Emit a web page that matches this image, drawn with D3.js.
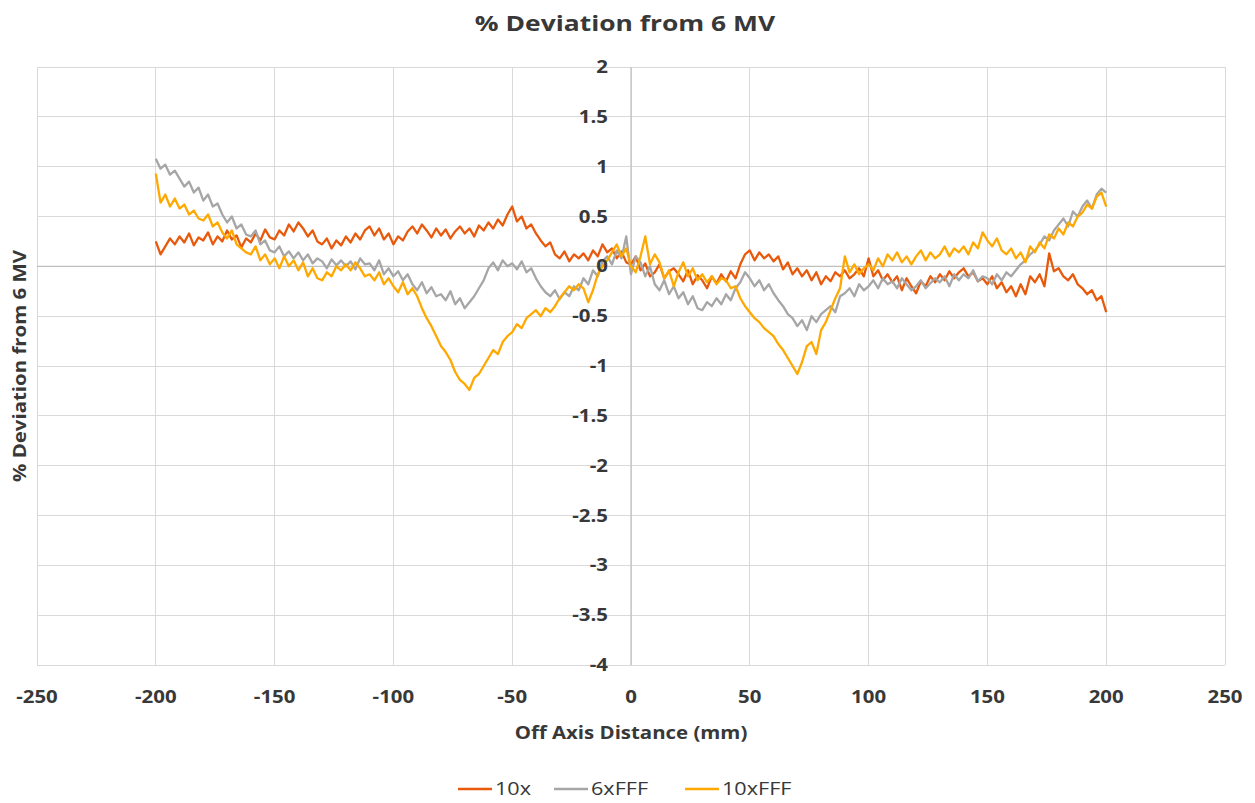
<!DOCTYPE html>
<html>
<head>
<meta charset="utf-8">
<script src="https://cdn.jsdelivr.net/npm/d3@7"></script>
<style>
  html, body { margin: 0; padding: 0; background: #fff; }
  svg { display: block; }
  text { font-family: "Open Sans", "DejaVu Sans", sans-serif; fill: #383838; }
</style>
</head>
<body>
<svg id="chart" width="1255" height="803"></svg>
<script>
// ---------------- data ----------------
const chartTitle = "% Deviation from 6 MV";
const xTitle = "Off Axis Distance (mm)";
const yTitle = "% Deviation from 6 MV";
const seriesNames = ["10x", "6xFFF", "10xFFF"];
const seriesColors = ["#E8590C", "#A6A6A6", "#FFA800"];
const xTicks = [-250, -200, -150, -100, -50, 0, 50, 100, 150, 200, 250];
const yTicks = [2, 1.5, 1, 0.5, 0, -0.5, -1, -1.5, -2, -2.5, -3, -3.5, -4];

const distance = [
-200,-198,-196,-194,-192,-190,-188,-186,-184,-182,-180,-178,-176,-174,-172,-170,-168,-166,-164,-162,
-160,-158,-156,-154,-152,-150,-148,-146,-144,-142,-140,-138,-136,-134,-132,-130,-128,-126,-124,-122,
-120,-118,-116,-114,-112,-110,-108,-106,-104,-102,-100,-98,-96,-94,-92,-90,-88,-86,-84,-82,
-80,-78,-76,-74,-72,-70,-68,-66,-64,-62,-60,-58,-56,-54,-52,-50,-48,-46,-44,-42,
-40,-38,-36,-34,-32,-30,-28,-26,-24,-22,-20,-18,-16,-14,-12,-10,-8,-6,-4,-2,
0,2,4,6,8,10,12,14,16,18,20,22,24,26,28,30,32,34,36,38,
40,42,44,46,48,50,52,54,56,58,60,62,64,66,68,70,72,74,76,78,
80,82,84,86,88,90,92,94,96,98,100,102,104,106,108,110,112,114,116,118,
120,122,124,126,128,130,132,134,136,138,140,142,144,146,148,150,152,154,156,158,
160,162,164,166,168,170,172,174,176,178,180,182,184,186,188,190,192,194,196,198,
200];

const dev10x = [
0.25,0.12,0.20,0.28,0.22, 0.30,0.24,0.33,0.21,0.29, 0.26,0.34,0.22,0.30,0.25, 0.36,0.27,0.31,0.19,0.28,
0.24,0.33,0.26,0.37,0.29, 0.27,0.36,0.31,0.42,0.35, 0.44,0.38,0.30,0.36,0.25, 0.22,0.28,0.18,0.26,0.21,
0.30,0.24,0.33,0.27,0.36, 0.40,0.31,0.38,0.27,0.33, 0.22,0.30,0.26,0.35,0.40, 0.33,0.42,0.36,0.29,0.38,
0.31,0.37,0.28,0.35,0.40, 0.33,0.38,0.30,0.41,0.36, 0.44,0.38,0.47,0.41,0.52, 0.60,0.45,0.50,0.38,0.42,
0.33,0.26,0.20,0.24,0.12, 0.08,0.15,0.05,0.12,0.08, 0.13,0.06,0.16,0.10,0.22, 0.14,0.18,0.08,0.15,0.04,
0.02,0.10,-0.04,0.03,-0.10, -0.06,0.02,-0.12,-0.05,-0.02, -0.08,-0.15,-0.04,-0.18,-0.09, -0.14,-0.22,-0.10,-0.17,-0.08,
-0.15,-0.05,-0.12,0.02,0.12, 0.16,0.06,0.14,0.08,0.12, 0.05,0.10,-0.03,0.04,-0.08, -0.02,-0.10,-0.04,-0.14,-0.06,
-0.18,-0.10,-0.15,-0.06,-0.10, -0.04,-0.12,-0.08,-0.02,-0.10, 0.08,-0.10,-0.04,-0.14,-0.08, -0.16,-0.10,-0.24,-0.12,-0.20,
-0.27,-0.15,-0.20,-0.10,-0.16, -0.08,-0.14,-0.05,-0.12,-0.06, -0.02,-0.10,-0.06,-0.15,-0.12, -0.18,-0.10,-0.22,-0.16,-0.26,
-0.20,-0.30,-0.18,-0.28,-0.10, -0.16,-0.08,-0.20,0.13,-0.05, -0.02,-0.10,-0.14,-0.08,-0.18, -0.22,-0.28,-0.24,-0.34,-0.30,
-0.46];

const dev6xFFF = [
1.08,0.98,1.02,0.92,0.96, 0.88,0.80,0.85,0.74,0.79, 0.66,0.72,0.60,0.63,0.52, 0.44,0.50,0.38,0.42,0.32,
0.30,0.36,0.22,0.26,0.16, 0.14,0.20,0.10,0.15,0.08, 0.14,0.06,0.12,0.03,0.08, 0.05,-0.02,0.07,0.01,0.06,
0.00,0.05,-0.03,0.08,0.02, 0.03,-0.04,0.06,-0.08,-0.02, -0.10,-0.05,-0.14,-0.08,-0.18, -0.24,-0.16,-0.27,-0.21,-0.30,
-0.28,-0.34,-0.25,-0.38,-0.32, -0.42,-0.36,-0.30,-0.22,-0.14, -0.02,0.04,-0.04,0.06,0.00, 0.03,-0.03,0.05,-0.06,-0.02,
-0.12,-0.20,-0.26,-0.30,-0.24, -0.33,-0.26,-0.30,-0.20,-0.24, -0.12,-0.18,-0.04,-0.10,0.05, 0.10,0.02,0.16,0.08,0.30,
-0.08,0.10,0.04,-0.10,0.00, -0.18,-0.24,-0.14,-0.28,-0.20, -0.32,-0.26,-0.38,-0.30,-0.42, -0.44,-0.36,-0.40,-0.32,-0.38,
-0.28,-0.34,-0.22,-0.16,-0.06, -0.12,-0.20,-0.14,-0.24,-0.18, -0.27,-0.34,-0.40,-0.48,-0.52, -0.60,-0.54,-0.64,-0.50,-0.56,
-0.48,-0.44,-0.40,-0.46,-0.30, -0.27,-0.22,-0.30,-0.18,-0.24, -0.20,-0.14,-0.22,-0.12,-0.18, -0.15,-0.22,-0.12,-0.18,-0.24,
-0.20,-0.14,-0.22,-0.17,-0.12, -0.16,-0.10,-0.20,-0.08,-0.14, -0.08,-0.12,-0.04,-0.15,-0.10, -0.12,-0.18,-0.08,-0.14,-0.06,
-0.10,-0.04,0.02,0.06,0.12, 0.16,0.22,0.30,0.26,0.36, 0.42,0.48,0.40,0.55,0.50, 0.60,0.66,0.58,0.72,0.78,
0.74];

const dev10xFFF = [
0.93,0.64,0.72,0.60,0.68, 0.58,0.62,0.52,0.56,0.48, 0.46,0.52,0.40,0.44,0.34, 0.28,0.36,0.22,0.18,0.14,
0.12,0.20,0.06,0.12,0.02, 0.08,-0.02,0.10,0.00,0.06, -0.04,0.04,-0.10,-0.02,-0.12, -0.14,-0.06,-0.10,0.00,-0.04,
0.02,-0.04,0.04,-0.02,-0.10, -0.08,-0.14,-0.06,-0.18,-0.12, -0.20,-0.26,-0.16,-0.28,-0.22, -0.30,-0.42,-0.52,-0.60,-0.70,
-0.80,-0.86,-0.94,-1.06,-1.14, -1.18,-1.24,-1.12,-1.08,-1.00, -0.92,-0.84,-0.88,-0.76,-0.70, -0.66,-0.58,-0.62,-0.52,-0.48,
-0.44,-0.50,-0.42,-0.46,-0.40, -0.32,-0.26,-0.20,-0.24,-0.18, -0.22,-0.36,-0.24,-0.08,0.00, 0.06,0.14,0.22,0.10,0.18,
0.00,-0.06,0.10,0.30,0.02, 0.12,0.04,-0.12,-0.04,-0.20, -0.06,0.04,-0.10,-0.02,-0.14, -0.08,-0.16,-0.10,-0.18,-0.12,
-0.14,-0.22,-0.20,-0.32,-0.40, -0.46,-0.52,-0.56,-0.62,-0.66, -0.70,-0.78,-0.84,-0.92,-1.00, -1.08,-0.96,-0.80,-0.76,-0.88,
-0.64,-0.56,-0.44,-0.32,-0.22, 0.10,-0.06,0.02,-0.08,-0.02, 0.02,-0.04,0.08,0.00,0.12, 0.06,0.14,0.04,0.10,0.02,
0.10,0.16,0.06,0.14,0.08, 0.12,0.20,0.10,0.18,0.14, 0.20,0.12,0.24,0.18,0.34, 0.26,0.20,0.28,0.16,0.12,
0.18,0.08,0.14,0.04,0.20, 0.14,0.24,0.18,0.32,0.28, 0.38,0.32,0.44,0.40,0.50, 0.54,0.62,0.58,0.70,0.74,
0.60];

// ---------------- chart ----------------
const svg = d3.select("#chart");
const plot = { left: 37, right: 1225, top: 67, bottom: 665 };

const x = d3.scaleLinear().domain([-250, 250]).range([plot.left, plot.right]);
const y = d3.scaleLinear().domain([-4, 2]).range([plot.bottom, plot.top]);

const STRETCH = 1.2;
function stretch(sel, k) {
  sel.each(function () {
    const len = this.getComputedTextLength();
    d3.select(this).attr("textLength", len * k).attr("lengthAdjust", "spacingAndGlyphs");
  });
}

// gridlines
svg.append("g")
  .selectAll("line").data(xTicks).join("line")
  .attr("x1", d => x(d)).attr("x2", d => x(d))
  .attr("y1", plot.top).attr("y2", plot.bottom)
  .attr("stroke", "#D9D9D9").attr("stroke-width", 1)
  .attr("shape-rendering", "crispEdges");
svg.append("g")
  .selectAll("line").data(yTicks).join("line")
  .attr("x1", plot.left).attr("x2", plot.right)
  .attr("y1", d => y(d)).attr("y2", d => y(d))
  .attr("stroke", "#D9D9D9").attr("stroke-width", 1)
  .attr("shape-rendering", "crispEdges");

// axis lines through zero
svg.append("line")
  .attr("x1", plot.left).attr("x2", plot.right)
  .attr("y1", y(0)).attr("y2", y(0))
  .attr("stroke", "#BFBFBF").attr("stroke-width", 1.2);
svg.append("line")
  .attr("x1", x(0)).attr("x2", x(0))
  .attr("y1", plot.top).attr("y2", plot.bottom)
  .attr("stroke", "#BFBFBF").attr("stroke-width", 1.2);

// series lines
const series = [dev10x, dev6xFFF, dev10xFFF];
const line = d3.line().x((d, i) => x(distance[i])).y(d => y(d));
series.forEach((vals, si) => {
  svg.append("path")
    .datum(vals)
    .attr("d", line)
    .attr("fill", "none")
    .attr("stroke", seriesColors[si])
    .attr("stroke-width", 2.3)
    .attr("stroke-linejoin", "round");
});

// y tick labels (at the zero crossing)
const yLab = svg.append("g").selectAll("text").data(yTicks).join("text")
  .attr("x", x(0) - 23).attr("y", d => y(d))
  .attr("dy", "0.36em")
  .attr("text-anchor", "end")
  .attr("font-size", 17).attr("font-weight", 700)
  .text(d => String(d));
stretch(yLab, STRETCH);

// x tick labels
const xLab = svg.append("g").selectAll("text").data(xTicks).join("text")
  .attr("x", d => x(d)).attr("y", 703)
  .attr("text-anchor", "middle")
  .attr("font-size", 17).attr("font-weight", 700)
  .text(d => String(d));
stretch(xLab, STRETCH);

// title
stretch(svg.append("text")
  .attr("x", 625).attr("y", 31)
  .attr("text-anchor", "middle")
  .attr("font-size", 22).attr("font-weight", 700)
  .text(chartTitle), STRETCH);

// x axis title
stretch(svg.append("text")
  .attr("x", 631).attr("y", 739)
  .attr("text-anchor", "middle")
  .attr("font-size", 17).attr("font-weight", 700)
  .text(xTitle), STRETCH);

// y axis title
stretch(svg.append("text")
  .attr("transform", "translate(26,366) rotate(-90)")
  .attr("text-anchor", "middle")
  .attr("font-size", 17).attr("font-weight", 700)
  .text(yTitle), STRETCH);

// legend
const legendX = [458, 554, 685];
const lg = svg.append("g").selectAll("g").data(seriesNames).join("g")
  .attr("transform", (d, i) => `translate(${legendX[i]},789)`);
lg.append("line")
  .attr("x1", 0).attr("x2", 34).attr("y1", 0).attr("y2", 0)
  .attr("stroke", (d, i) => seriesColors[i]).attr("stroke-width", 2.5);
const lt = lg.append("text")
  .attr("x", 37).attr("y", 0).attr("dy", "0.36em")
  .attr("font-size", 18).attr("font-weight", 400)
  .text(d => d);
stretch(lt, STRETCH);
</script>
</body>
</html>
